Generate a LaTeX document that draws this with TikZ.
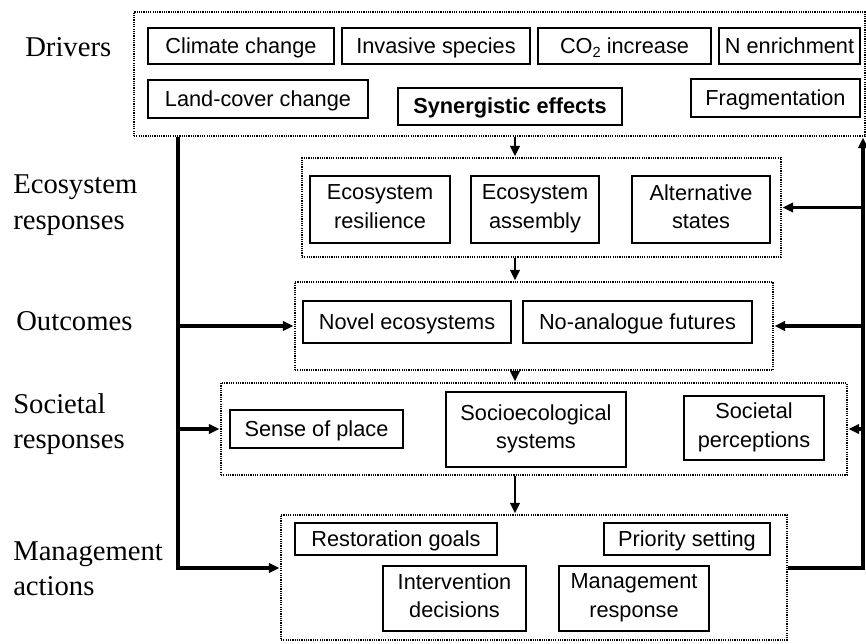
\documentclass[tikz,border=0pt]{standalone}
\usepackage{fontspec}
\setmainfont{Liberation Serif}
\newfontfamily\boxfont{Liberation Sans}
\usetikzlibrary{arrows.meta}
\newcommand\boxstrut{\rule[-4.5pt]{0pt}{20pt}}
\begin{document}
\begin{tikzpicture}[x=0.75pt,y=-0.75pt,
  grp/.style={draw, line width=2.2pt, dash pattern=on 0.9pt off 0.8pt, inner sep=0pt},
  ibox/.style={draw, line width=0.9pt, font=\boxfont\fontsize{16.3}{21.5}\selectfont, align=center, inner sep=0pt,
    execute at begin node=\boxstrut, execute at end node=\boxstrut},
  lbl/.style={font=\fontsize{21.5}{26.5}\selectfont, align=left, anchor=west, inner sep=0pt},
  conn/.style={line width=2.6pt},
  arr/.style={conn, -{Triangle[length=8pt,width=7pt]}},
  carr/.style={line width=2.2pt, -{Triangle[length=8pt,width=7pt]}},
]
\useasboundingbox (0,0) rectangle (866,643);
\newcommand\boxat[7][ibox]{\node[#1, minimum width={(#5-#3)*0.75pt}, minimum height={(#6-#4)*0.75pt}] (#2) at ({(#3+#5)/2},{(#4+#6)/2}) {#7};}

% group frames
\boxat[grp]{drv}{134}{12}{865}{136}{}
\boxat[grp]{eco}{302}{158}{781}{257}{}
\boxat[grp]{out}{295}{282}{773}{370}{}
\boxat[grp]{soc}{221}{383}{847}{475}{}
\boxat[grp]{mgt}{281}{515}{787}{640}{}

% drivers
\boxat{cc}{148}{28}{334}{64}{Climate change}
\boxat{is}{342}{28}{530}{64}{Invasive species}
\boxat{co}{538}{28}{711}{64}{CO\raisebox{-0.35ex}{\fontsize{11}{11}\selectfont 2} increase}
\boxat{ne}{719}{28}{860}{64}{N enrichment}
\boxat{lc}{148}{80}{368}{118}{Land-cover change}
\boxat{se}{398}{88}{622}{125}{\bfseries Synergistic effects}
\boxat{fr}{691}{79}{860}{117}{Fragmentation}

% ecosystem responses
\boxat{er}{310}{176}{450}{243}{Ecosystem\\resilience}
\boxat{ea}{471}{176}{599}{243}{Ecosystem\\assembly}
\boxat{as}{632}{176}{770}{243}{Alternative\\states}

% outcomes
\boxat{ne2}{303}{301}{511}{343}{Novel ecosystems}
\boxat{na}{523}{301}{752}{343}{No-analogue futures}

% societal responses
\boxat{sp}{230}{410}{403}{448}{Sense of place}
\boxat{ss}{446}{392}{626}{467}{Socioecological\\systems}
\boxat{sop}{684}{396}{824}{460}{Societal\\perceptions}

% management actions
\boxat{rg}{295}{523}{497}{555}{Restoration goals}
\boxat{ps}{604}{523}{770}{555}{Priority setting}
\boxat{id}{383}{566}{526}{631}{Intervention\\decisions}
\boxat{mr}{559}{566}{709}{631}{Management\\response}

% row labels
\node[lbl] (l1) at (25,47) {Drivers};
\node[lbl] (l2) at (13,205) {Ecosystem\\responses};
\node[lbl] (l3) at (16,321) {Outcomes};
\node[lbl] (l4) at (13,424) {Societal\\responses};
\node[lbl] (l5) at (13,569) {Management\\actions};

% helper coordinates
\coordinate (lx) at (178,0);
\coordinate (rx) at (863,0);
\coordinate (cx) at (515,0);
\coordinate (lm) at (178,568);

% central flow
\draw[carr] (drv.south -| cx) -- (eco.north -| cx);
\draw[carr] (eco.south -| cx) -- (out.north -| cx);
\draw[carr] (out.south -| cx) -- (soc.north -| cx);
\draw[carr] (soc.south -| cx) -- (mgt.north -| cx);

% left trunk
\draw[arr] (drv.south -| lx) -- (lm) -- (lm -| mgt.west);
\draw[arr] (lx |- out.west) -- (out.west);
\draw[arr] (lx |- soc.west) -- (soc.west);

% right feedback
\draw[arr] (lm -| mgt.east) -- (lm -| rx) -- (drv.south -| rx);
\draw[arr] (rx |- eco.east) -- (eco.east);
\draw[arr] (rx |- out.east) -- (out.east);
\draw[arr] (rx |- soc.east) -- (soc.east);
\end{tikzpicture}
\end{document}
